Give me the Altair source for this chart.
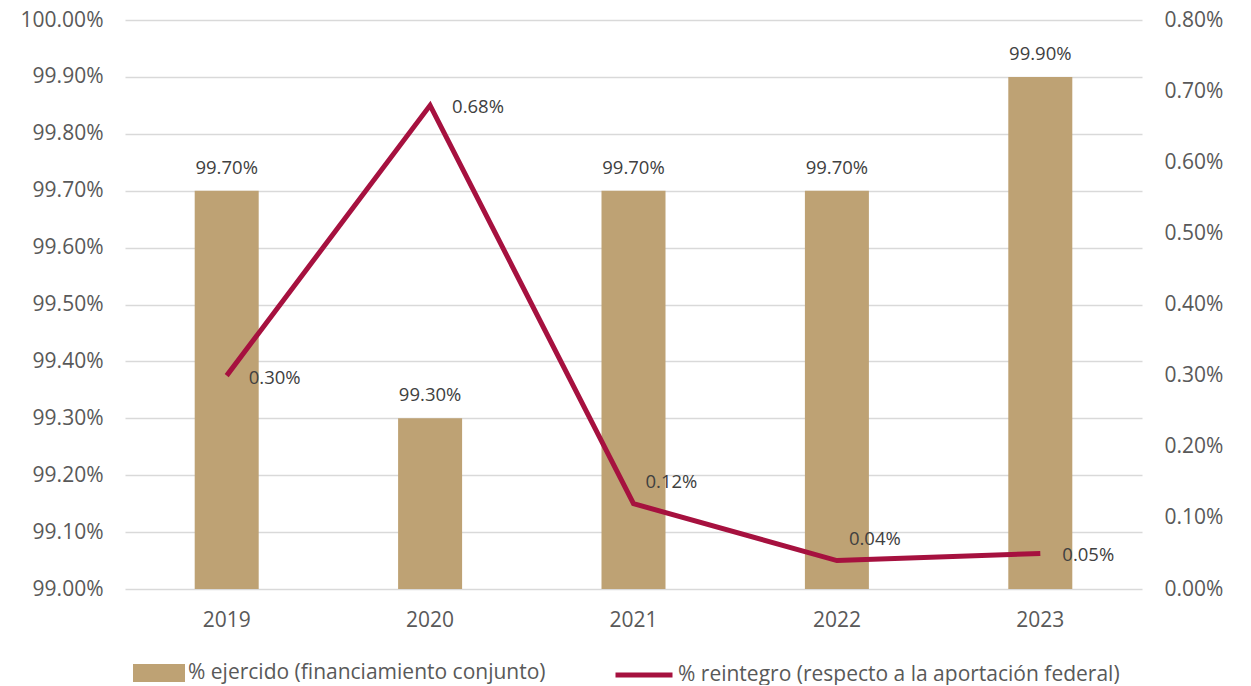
import altair as alt
import pandas as pd

years = ["2019", "2020", "2021", "2022", "2023"]
ejercido = [99.70, 99.30, 99.70, 99.70, 99.90]
reintegro = [0.30, 0.68, 0.12, 0.04, 0.05]
serie_barra = "% ejercido (financiamiento conjunto)"
serie_linea = "% reintegro (respecto a la aportación federal)"
left_ticks = [99.0, 99.1, 99.2, 99.3, 99.4, 99.5, 99.6, 99.7, 99.8, 99.9, 100.0]
right_ticks = [0.0, 0.1, 0.2, 0.3, 0.4, 0.5, 0.6, 0.7, 0.8]
above_years = ["2021", "2022"]

BAR = "#BEA274"
LINE = "#A6113F"
TXT = "#595959"
LBL = "#404040"
FONT = "Open Sans"

df = pd.DataFrame({
    "year": years,
    "ejercido": ejercido,
    "reintegro": reintegro,
    "s1": serie_barra,
    "s2": serie_linea,
})

base = alt.Chart(df).transform_calculate(
    base="99",
    lab1="format(datum.ejercido, '.2f') + '%'",
    lab2="format(datum.reintegro, '.2f') + '%'",
)

x_enc = alt.X(
    "year:N",
    title=None,
    scale=alt.Scale(paddingInner=0, paddingOuter=0),
    axis=alt.Axis(labelAngle=0, domain=False, ticks=False, labelPadding=20,
                  labelFontSize=21, labelColor=TXT, labelFont=FONT, grid=False),
)

y_left = alt.Y(
    "ejercido:Q",
    title=None,
    scale=alt.Scale(domain=[99, 100], zero=False, nice=False),
    axis=alt.Axis(values=left_ticks, labelExpr="format(datum.value, '.2f') + '%'",
                  domain=False, ticks=False, labelPadding=22, labelFontSize=21,
                  labelColor=TXT, labelFont=FONT, grid=True, gridColor="#D9D9D9",
                  gridWidth=1.5),
)

y_right = alt.Y(
    "reintegro:Q",
    title=None,
    scale=alt.Scale(domain=[0, 0.8], nice=False),
    axis=alt.Axis(orient="right", values=right_ticks,
                  labelExpr="format(datum.value, '.2f') + '%'",
                  domain=False, ticks=False, labelPadding=22, labelFontSize=21,
                  labelColor=TXT, labelFont=FONT, grid=False),
)

bars = base.mark_bar(size=64).encode(
    x=x_enc,
    y=y_left,
    y2="base:Q",
    color=alt.Color("s1:N", scale=alt.Scale(range=[BAR]),
                    legend=alt.Legend(orient="none", legendX=8, legendY=627, title=None,
                                      symbolType="M-1,-0.346L1,-0.346L1,0.346L-1,0.346Z",
                                      symbolSize=2704, symbolStrokeWidth=0,
                                      symbolOpacity=1, labelOffset=3, padding=0,
                                      labelFont=FONT, labelFontSize=21, labelColor=TXT,
                                      labelLimit=600)),
)
bar_text = base.mark_text(dy=-23, baseline="middle", align="center", fontSize=18.5,
                          color=LBL, font=FONT).encode(
    x=x_enc, y=y_left, text="lab1:N")

line = base.mark_line(strokeWidth=5).encode(
    x=x_enc,
    y=y_right,
    stroke=alt.Stroke("s2:N", scale=alt.Scale(range=[LINE]),
                      legend=alt.Legend(orient="none", legendX=488, legendY=624, title=None,
                                        symbolType="stroke", symbolSize=3249,
                                        symbolStrokeWidth=5, labelOffset=3, padding=0,
                                        labelFont=FONT, labelFontSize=21, labelColor=TXT,
                                        labelLimit=600)),
)
line_text_right = base.transform_filter(
    alt.FieldOneOfPredicate(field="year", oneOf=[y for y in years if y not in above_years])
).mark_text(dx=22, dy=2, align="left", baseline="middle", fontSize=18.5, color=LBL,
            font=FONT).encode(x=x_enc, y=y_right, text="lab2:N")
line_text_above = base.transform_filter(
    alt.FieldOneOfPredicate(field="year", oneOf=above_years)
).mark_text(dx=12, dy=-22, align="left", baseline="middle", fontSize=18.5, color=LBL,
            font=FONT).encode(x=x_enc, y=y_right, text="lab2:N")

chart = alt.layer(
    alt.layer(bars, bar_text),
    alt.layer(line, line_text_right, line_text_above),
).resolve_scale(y="independent").properties(
    width=1017, height=569,
    padding={"left": 117, "top": 12, "right": 101, "bottom": 96},
    autosize=alt.AutoSizeParams(type="none"),
    background="white",
).configure_view(stroke=None)

chart.save("out.html", embed_options={"renderer": "svg", "actions": False})
